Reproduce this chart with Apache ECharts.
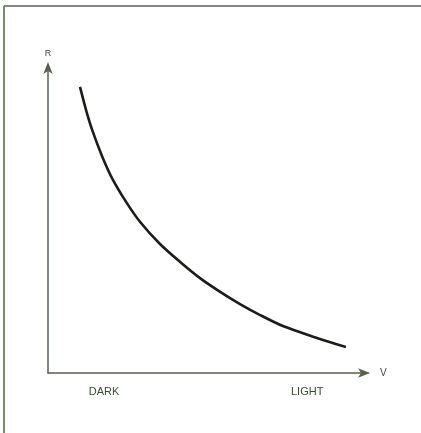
<!DOCTYPE html>
<html><head><meta charset="utf-8">
<script src="https://cdn.jsdelivr.net/npm/echarts@6/dist/echarts.min.js"></script>
<style>html,body{margin:0;padding:0;background:#fff}#c{width:421px;height:433px}</style>
</head><body><div id="c"></div>
<script>
// Curve samples (x = light level 0..100, y = resistance 0..100)
const curveX = [10, 11.9, 13.8, 16.9, 20.3, 24.4, 28.8, 35, 41.3, 47.5, 53.8, 60, 66.3, 73.4, 84.1, 93.1];
const curveY = [93.8, 86.2, 79.7, 71.1, 63.3, 56.1, 49.5, 42.3, 36.4, 31.1, 26.6, 22.6, 19.0, 15.4, 11.5, 8.5];
const xTickValues = [17.5, 81];
const xTickLabels = ['DARK', 'LIGHT'];
const xName = 'V';
const yName = 'R';

const data = curveX.map((x, i) => [x, curveY[i]]);
const axisColor = '#56614c';
const textColor = '#3a4a33';
const chart = echarts.init(document.getElementById('c'), null, {renderer: 'canvas'});
chart.setOption({
  backgroundColor: '#fff',
  animation: false,
  grid: {left: 48, right: 53, top: 68, bottom: 60},
  xAxis: {
    type: 'value', min: 0, max: 100,
    name: xName, nameLocation: 'end', nameGap: 12,
    nameTextStyle: {color: textColor, fontFamily: 'Liberation Sans', fontSize: 10, verticalAlign: 'middle'},
    axisLine: {show: true, lineStyle: {color: axisColor, width: 1.5}, symbol: ['none', 'arrow'], symbolSize: [7, 12], symbolOffset: [0, 2]},
    axisTick: {show: false},
    splitLine: {show: false},
    axisLabel: {
      customValues: xTickValues,
      formatter: v => xTickLabels[xTickValues.indexOf(v)] || '',
      color: textColor, fontFamily: 'Liberation Sans', fontSize: 11, margin: 13
    }
  },
  yAxis: {
    type: 'value', min: 0, max: 100,
    name: yName, nameLocation: 'end', nameGap: 10,
    nameTextStyle: {color: textColor, fontFamily: 'Liberation Sans', fontSize: 9, align: 'center'},
    axisLine: {show: true, lineStyle: {color: axisColor, width: 1.5}, symbol: ['none', 'arrow'], symbolSize: [7, 12], symbolOffset: [0, 6]},
    axisTick: {show: false},
    splitLine: {show: false},
    axisLabel: {show: false}
  },
  series: [{
    type: 'line', data: data, smooth: 0.3, showSymbol: false,
    lineStyle: {color: '#1c1c1a', width: 2.6}
  }],
  graphic: [
    {type: 'line', shape: {x1: 4, y1: 6, x2: 421, y2: 6}, style: {stroke: '#5c5c5c', lineWidth: 1.5}},
    {type: 'line', shape: {x1: 4, y1: 6, x2: 4, y2: 433}, style: {stroke: '#3e6b3a', lineWidth: 1.5}}
  ]
});
</script></body></html>
